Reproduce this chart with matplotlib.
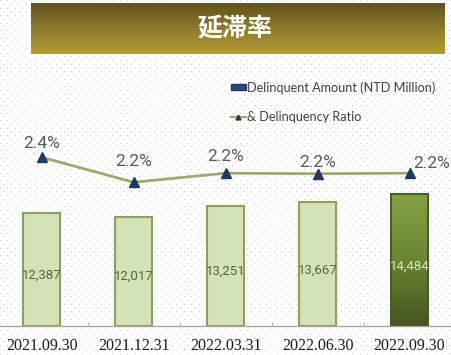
import numpy as np
import matplotlib
matplotlib.use('Agg')
import matplotlib.pyplot as plt
from matplotlib.patches import Patch
from matplotlib.lines import Line2D

# data
dates = ['2021.09.30', '2021.12.31', '2022.03.31', '2022.06.30', '2022.09.30']
amounts = [12387, 12017, 13251, 13667, 14484]   # NTD Million
ratios = [2.38, 2.16, 2.24, 2.235, 2.24]         # %
title = '延滞率'
bar_label = 'Delinquent Amount (NTD Million)'
line_label = '& Delinquency Ratio'

W, H = 452, 355
fig = plt.figure(figsize=(W / 100, H / 100), dpi=100)
fig.patch.set_facecolor('white')

# dotted background
bg = fig.add_axes([0, 0, 1, 1])
bg.set_xlim(0, W)
bg.set_ylim(H, 0)
bg.axis('off')
gx, gy = np.meshgrid(np.arange(0, W + 8, 7.5), np.arange(0, H + 8, 3.75))
gx = gx + (np.arange(gx.shape[0])[:, None] % 2) * 3.75
bg.scatter(gx.ravel(), gy.ravel(), s=0.35, c='#bdbdbd', linewidths=0, zorder=0)

# title banner, dark at the top, gold at the bottom
bx0, bx1, by0, by1 = 31, 445, 2.7, 54
ban = fig.add_axes([bx0 / W, 1 - by1 / H, (bx1 - bx0) / W, (by1 - by0) / H])
ban.axis('off')
grad = np.linspace(0, 1, 64)[:, None]
cmap_ban = matplotlib.colors.LinearSegmentedColormap.from_list('ban', ['#5f511a', '#8c7a2a', '#b49c34'])
ban.imshow(grad, aspect='auto', cmap=cmap_ban, extent=[0, 1, 0, 1], origin='upper')
ban.set_xlim(0, 1)
ban.set_ylim(0, 1)
fig.text(235 / W, 1 - 29 / H, title, color='white', fontsize=18, fontweight='bold',
         family=['Noto Sans CJK JP', 'DejaVu Sans'], ha='center', va='center')

# main axes
ax_bottom = 325.6
ax_top = 140
ax = fig.add_axes([0, 1 - ax_bottom / H, 1, (ax_bottom - ax_top) / H])
ax.patch.set_alpha(0)
x = np.arange(len(dates))

light_face = '#d4e3b6'
light_edge = '#8d9f5c'
ax.bar(x[:-1], amounts[:-1], width=0.40, color=light_face, edgecolor=light_edge,
       linewidth=1.5, zorder=2)
last = ax.bar(x[-1:], amounts[-1:], width=0.40, color='none', edgecolor='#4a5c22',
              linewidth=1.5, zorder=3)
cmap_bar = matplotlib.colors.LinearSegmentedColormap.from_list('bar', ['#83a342', '#6a8632', '#44561f'])
im = ax.imshow(grad, aspect='auto', cmap=cmap_bar, zorder=2.5,
               extent=[x[-1] - 0.2, x[-1] + 0.2, 0, amounts[-1]], origin='upper')
im.set_clip_path(last[0])
ax.set_xlim(-0.4535, 4.462)
ax.set_ylim(0, 20500)

for i, v in enumerate(amounts):
    col = '#d9e6c0' if i == len(amounts) - 1 else '#55663a'
    ax.text(x[i], v * 0.45, f'{v:,}', ha='center', va='center', fontsize=9.5,
            family='Roboto', color=col, zorder=5)

for s in ['left', 'right', 'top']:
    ax.spines[s].set_visible(False)
ax.spines['bottom'].set_color('#a6a6a6')
ax.spines['bottom'].set_linewidth(1.0)
ax.set_yticks([])
ax.set_xticks(x)
ax.set_xticklabels(dates, family='Liberation Serif', fontsize=11.5, color='#1a1a1a')
ax.tick_params(axis='x', which='major', length=0, pad=9)
ax.set_xticks(x[:-1] + 0.5, minor=True)
ax.tick_params(axis='x', which='minor', length=3, direction='in', color='#a6a6a6')

# ratio line on secondary axis
ax2 = ax.twinx()
ax2.set_ylim(0.898, 2.532)
ax2.axis('off')
ax2.plot(x, ratios, color='#9aab6c', linewidth=2, marker='^', markersize=6.5,
         markerfacecolor='#1f3864', markeredgecolor='#1f3864', zorder=4)
offsets = [(0, 10), (0, 15), (0, 12), (0, 8), (16, 7)]
for i, v in enumerate(ratios):
    ax2.annotate(f'{v:.1f}%', (x[i], v), xytext=offsets[i], textcoords='offset points',
                 ha='center', va='center', fontsize=12.5, family='Roboto', color='#595959')

# legend
handles = [Patch(facecolor='#2b4a7c', edgecolor='#1f3864'),
           Line2D([0], [0], color='#9aab6c', linewidth=1.5, marker='^', markersize=3.5,
                  markerfacecolor='#1f3864', markeredgecolor='#1f3864')]
fig.legend(handles, [bar_label, line_label], loc='upper left',
           bbox_to_anchor=(231 / W, 1 - 81 / H), frameon=False,
           prop={'family': 'Lato', 'size': 9.1}, labelspacing=1.35, handlelength=1.15,
           handleheight=0.45, handletextpad=0.1, borderpad=0, borderaxespad=0,
           labelcolor='#404040')

fig.savefig('out.png', dpi=100)
